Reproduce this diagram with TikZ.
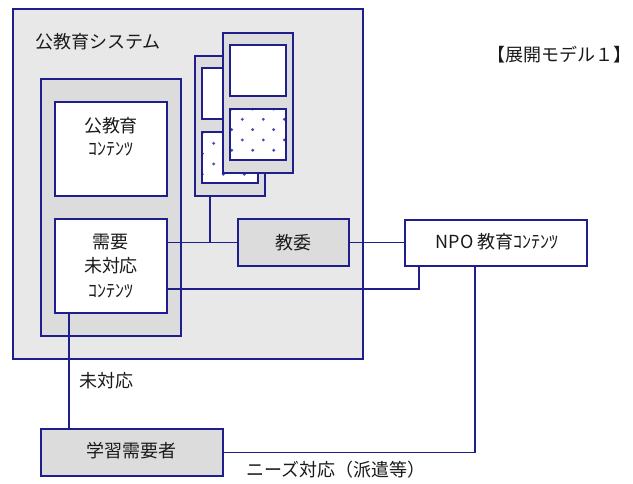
\documentclass[tikz,border=0pt]{standalone}
\usepackage{fontspec}
\setmainfont{Noto Sans CJK JP}
\usetikzlibrary{calc}
\definecolor{edgec}{HTML}{1E1E8C}
\definecolor{outerc}{HTML}{E8E8E8}
\definecolor{innerc}{HTML}{DCDCDC}
\definecolor{dotc}{HTML}{4A4AB0}
\definecolor{txtc}{HTML}{1A1A1A}
\newcommand\putdots[4]{%
  \begin{scope}
    \clip (#1.south west) rectangle (#1.north east);
    \foreach \k in {0,...,5}{
      \pgfmathsetmacro\xoff{#2+(#3-#2)*mod(\k,2)}
      \foreach \j in {0,...,3}{
        \fill[dotc] ($(#1.north west)+(\xoff+21*\j,#4+10.3*\k)$) circle (1.6pt);
      }
    }
  \end{scope}
  \draw[edgec,line width=1.1pt] (#1.south west) rectangle (#1.north east);
}
\tikzset{
  box/.style={draw=edgec, line width=1.1pt, inner sep=0pt, outer sep=0pt, anchor=center},
  outerbox/.style={box, fill=outerc},
  graybox/.style={box, fill=innerc},
  whitebox/.style={box, fill=white},
  lbl/.style={text=txtc, inner sep=0pt, font=\fontsize{18pt}{21pt}\selectfont},
  conn/.style={draw=edgec, line width=1.1pt},
}
\begin{document}
\begin{tikzpicture}[x=1pt,y=-1pt]
\useasboundingbox[fill=white] (0,0) rectangle (633,483);
% system
\node[outerbox, minimum width=350, minimum height=350] (sys) at (188,184) {};
\node[lbl, anchor=west] (systitle) at (35,42) {公教育システム};
\node[lbl, anchor=east] (model) at (632,55) {【展開モデル１】};
% left column
\node[graybox, minimum width=140, minimum height=257] (col) at (111,207.5) {};
\node[whitebox, minimum width=112, minimum height=94] (pub) at (111,149) {};
\node[lbl, align=center, font=\fontsize{18pt}{23pt}\selectfont] (pubtxt) at (111,137) {公教育\\ｺﾝﾃﾝﾂ};
\node[whitebox, minimum width=112, minimum height=94] (juyo) at (111,266) {};
\node[lbl, align=center, font=\fontsize{18pt}{24.5pt}\selectfont] (juyotxt) at (111,266) {需要\\未対応\\ｺﾝﾃﾝﾂ};
% stacked cards
\node[graybox, minimum width=70, minimum height=140] (backcard) at (230,126) {};
\node[whitebox, minimum width=56, minimum height=51] (backtop) at (230,93.5) {};
\node[whitebox, minimum width=56, minimum height=51] (backdot) at (230,157.5) {};
\putdots{backdot}{0.3}{11.7}{1}
\node[graybox, minimum width=70, minimum height=140] (frontcard) at (258,103) {};
\node[whitebox, minimum width=56, minimum height=51] (fronttop) at (258,70.5) {};
\node[whitebox, minimum width=56, minimum height=51] (frontdot) at (258,134.5) {};
\putdots{frontdot}{1.7}{12.3}{0}
% other boxes
\node[graybox, minimum width=111, minimum height=47] (kyoi) at (293.5,242.5) {};
\node[lbl] (kyoitxt) at (293.5,242.5) {教委};
\node[whitebox, minimum width=182, minimum height=46] (npo) at (496,243) {};
\node[lbl] (npotxt) at (497,242) {NPO 教育ｺﾝﾃﾝﾂ};
\node[graybox, minimum width=182, minimum height=47] (learner) at (132,452.5) {};
\node[lbl] (learnertxt) at (131,451) {学習需要者};
% labels
\node[lbl, anchor=west] (mitaiou) at (79,381) {未対応};
\node[lbl, anchor=west] (needs) at (246,470) {ニーズ対応（派遣等）};
% connectors
\draw[conn] (kyoi.west -| juyo.east) -- (kyoi.west);
\draw[conn] ([xshift=15pt]backcard.south west) -- ([xshift=15pt]backcard.south west |- kyoi.west);
\draw[conn] (kyoi.east) -- (kyoi.east -| npo.west);
\draw[conn] ([yshift=-23pt]juyo.east) -| ([xshift=14pt]npo.south west);
\draw[conn] ([xshift=14pt]juyo.south west) -- ([xshift=14pt]juyo.south west |- learner.north);
\draw[conn] ([xshift=70pt]npo.south west) |- (learner.east);
\end{tikzpicture}
\end{document}
